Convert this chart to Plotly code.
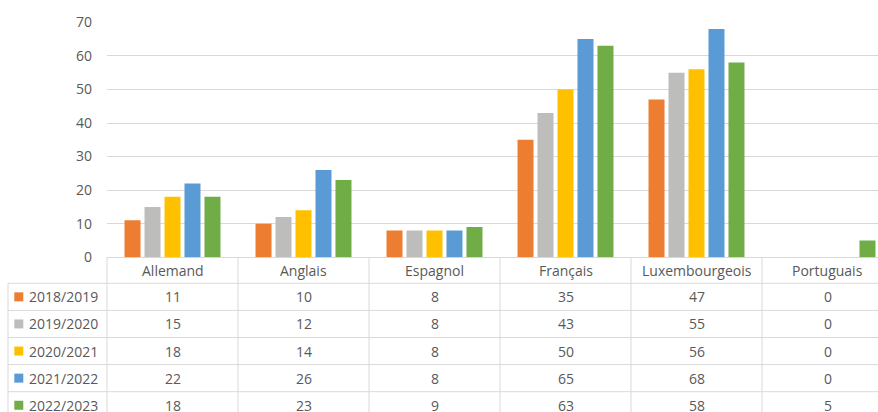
import plotly.graph_objects as go

categories = ["Allemand", "Anglais", "Espagnol", "Français", "Luxembourgeois", "Portuguais"]
series_names = ["2018/2019", "2019/2020", "2020/2021", "2021/2022", "2022/2023"]
v_2018 = [11, 10, 8, 35, 47, 0]
v_2019 = [15, 12, 8, 43, 55, 0]
v_2020 = [18, 14, 8, 50, 56, 0]
v_2021 = [22, 26, 8, 65, 68, 0]
v_2022 = [18, 23, 9, 63, 58, 5]
series_values = [v_2018, v_2019, v_2020, v_2021, v_2022]
colors = ["#ED7D31", "#BDBDBC", "#FFC000", "#5B9BD5", "#70AD47"]
y_ticks = [0, 10, 20, 30, 40, 50, 60, 70]

W, H = 878, 412
FONT = "Open Sans"
TXT = "#595959"
LINE = "#D9D9D9"

def px(x):
    return x / W

def py(y):
    return 1 - y / H

plot_left = 107
col_w = 131
y0_px, y70_px = 257.3, 22.3
header_bottom = 283.3
row_h = 27.1

fig = go.Figure()
for name, vals, c in zip(series_names, series_values, colors):
    fig.add_trace(go.Bar(
        x=list(range(len(categories))), y=vals, name=name,
        marker=dict(color=c, line=dict(width=0)),
        showlegend=False, hoverinfo="skip",
    ))

shapes = []
annotations = []

# header category labels
for i, cat in enumerate(categories):
    annotations.append(dict(
        x=i, xref="x", y=py((y0_px + header_bottom) / 2), yref="paper",
        text=cat, showarrow=False, font=dict(family=FONT, size=14, color=TXT),
        xanchor="center", yanchor="middle"))

# rows
for r, (name, vals, c) in enumerate(zip(series_names, series_values, colors)):
    top = header_bottom + r * row_h
    cy = top + row_h / 2
    shapes.append(dict(type="line", xref="paper", yref="paper",
                       x0=px(8), x1=1, y0=py(top), y1=py(top),
                       line=dict(color=LINE, width=1)))
    shapes.append(dict(type="rect", xref="paper", yref="paper",
                       x0=px(14.3), x1=px(23.3), y0=py(cy - 4.5), y1=py(cy + 4.5),
                       fillcolor=c, line=dict(width=0)))
    annotations.append(dict(
        x=px(26.5), xref="paper", y=py(cy), yref="paper", text=name,
        showarrow=False, font=dict(family=FONT, size=14, color=TXT),
        xanchor="left", yanchor="middle"))
    for i, v in enumerate(vals):
        annotations.append(dict(
            x=i, xref="x", y=py(cy), yref="paper", text=str(v),
            showarrow=False, font=dict(family=FONT, size=14, color=TXT),
            xanchor="center", yanchor="middle"))

# vertical lines
for k in range(len(categories)):
    xx = plot_left + k * col_w
    shapes.append(dict(type="line", xref="paper", yref="paper",
                       x0=px(xx), x1=px(xx), y0=py(y0_px), y1=0,
                       line=dict(color=LINE, width=1)))
shapes.append(dict(type="line", xref="paper", yref="paper",
                   x0=px(8), x1=px(8), y0=py(header_bottom), y1=0,
                   line=dict(color=LINE, width=1)))

fig.update_layout(
    width=W, height=H,
    margin=dict(l=0, r=0, t=0, b=0, autoexpand=False),
    paper_bgcolor="white", plot_bgcolor="white",
    barmode="group", bargap=0.237, bargroupgap=0.2,
    shapes=shapes, annotations=annotations,
    font=dict(family=FONT, size=14, color=TXT),
    xaxis=dict(domain=[px(plot_left), 1],
               range=[-0.5, -0.5 + (W - plot_left) / col_w],
               showticklabels=False, showgrid=False, zeroline=False,
               showline=False, ticks="", automargin=False),
    yaxis=dict(domain=[py(y0_px), py(y70_px)], range=[0, 70],
               tickvals=y_ticks, showgrid=True, gridcolor=LINE, gridwidth=1,
               zeroline=True, zerolinecolor=LINE, zerolinewidth=1,
               showline=False, ticks="", ticklabelstandoff=14, automargin=False,
               tickfont=dict(family=FONT, size=14, color=TXT)),
)

fig.write_html("out.html", config={"displayModeBar": False},
               post_script="document.body.style.margin='0';document.body.style.overflow='hidden';")
